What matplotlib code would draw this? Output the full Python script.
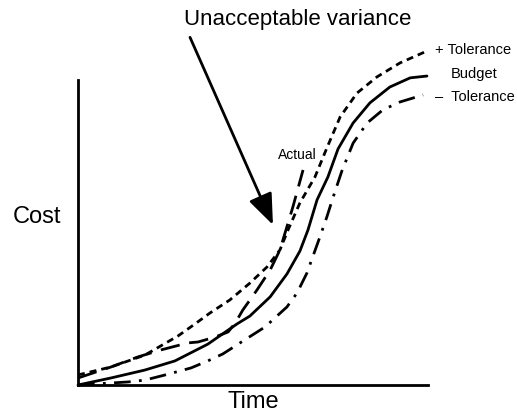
import matplotlib
matplotlib.use("Agg")
import matplotlib.pyplot as plt

plt.rcParams['font.family'] = ['Liberation Sans', 'DejaVu Sans']

# Budget (solid)
budget_x = [0, 0.94, 1.91, 2.77, 3.71, 4.54, 4.91, 5.49, 5.97, 6.34, 6.57, 6.83, 7.14, 7.43, 7.86, 8.34, 8.91, 9.49, 9.97]
budget_y = [0, 0.23, 0.49, 0.79, 1.34, 2.0, 2.26, 2.89, 3.64, 4.39, 5.08, 6.07, 6.82, 7.74, 8.59, 9.25, 9.77, 10.07, 10.13]

# + Tolerance (short dashes)
plus_x = [0, 0.94, 1.91, 2.86, 3.34, 3.77, 4.34, 4.91, 5.4, 5.77, 6.0, 6.34, 6.77, 7.11, 7.49, 7.97, 8.54, 9.2, 9.91]
plus_y = [0.33, 0.59, 0.98, 1.61, 2.0, 2.36, 2.79, 3.34, 3.87, 4.43, 5.08, 5.97, 6.82, 7.77, 8.79, 9.57, 10.1, 10.56, 10.92]

# - Tolerance (dash-dot)
minus_x = [0, 1.43, 1.91, 2.49, 3.23, 3.71, 4.14, 4.71, 5.34, 5.97, 6.26, 6.54, 6.91, 7.11, 7.29, 7.54, 7.86, 8.26, 8.71, 9.2, 9.86]
minus_y = [0, 0.1, 0.16, 0.33, 0.56, 0.79, 1.02, 1.44, 1.90, 2.56, 3.02, 3.67, 4.85, 5.51, 6.16, 7.02, 7.93, 8.59, 9.02, 9.28, 9.51]

# Actual (long dashes)
actual_x = [0, 0.94, 1.71, 2.37, 3.14, 3.43, 3.91, 4.29, 4.49, 4.71, 5.11, 5.49, 5.77, 6.14, 6.43]
actual_y = [0.23, 0.59, 0.92, 1.15, 1.38, 1.41, 1.57, 1.74, 2.03, 2.46, 3.11, 3.77, 4.43, 5.84, 7.05]

fig = plt.figure(figsize=(5.17, 4.16), dpi=100)
W, H = 517, 416
ax = fig.add_axes([78 / W, (H - 385) / H, (428 - 78) / W, (385 - 80) / H])
ax.set_xlim(0, 10)
ax.set_ylim(0, 10)
for s in ['top', 'right']:
    ax.spines[s].set_visible(False)
for s in ['left', 'bottom']:
    ax.spines[s].set_linewidth(2.0)
ax.set_xticks([])
ax.set_yticks([])

lw = 2.0
ax.plot(budget_x, budget_y, color='black', lw=lw, clip_on=False,
        solid_joinstyle='round', solid_capstyle='round')
ax.plot(plus_x, plus_y, color='black', lw=lw, dashes=(2.5, 1.8), clip_on=False)
ax.plot(minus_x, minus_y, color='black', lw=lw, dashes=(6, 3, 1, 3), clip_on=False)
ax.plot(actual_x, actual_y, color='black', lw=lw, dashes=(7, 3.5), clip_on=False)

ax.text(10.2, 10.98, '+ Tolerance', fontsize=10.5, ha='left', va='center', clip_on=False)
ax.text(10.66, 10.2, 'Budget', fontsize=10.5, ha='left', va='center', clip_on=False)
ax.text(10.2, 9.44, '\u2013  Tolerance', fontsize=10.5, ha='left', va='center', clip_on=False)
ax.text(6.26, 7.54, 'Actual', fontsize=10, ha='center', va='center', clip_on=False)

ax.text(-1.17, 5.5, 'Cost', fontsize=17, ha='center', va='center', clip_on=False)
ax.text(5.0, -0.55, 'Time', fontsize=17, ha='center', va='center', clip_on=False)

fig.text(298 / W, 1 - 20 / H, 'Unacceptable variance', fontsize=16, ha='center', va='center')

ax.annotate('', xy=(5.57, 5.25), xytext=(3.2, 11.4), annotation_clip=False,
            arrowprops=dict(arrowstyle='-|>,head_length=1.9,head_width=0.75',
                            color='black', lw=2, mutation_scale=10, shrinkA=0, shrinkB=0))

fig.savefig('out.png', dpi=100)
